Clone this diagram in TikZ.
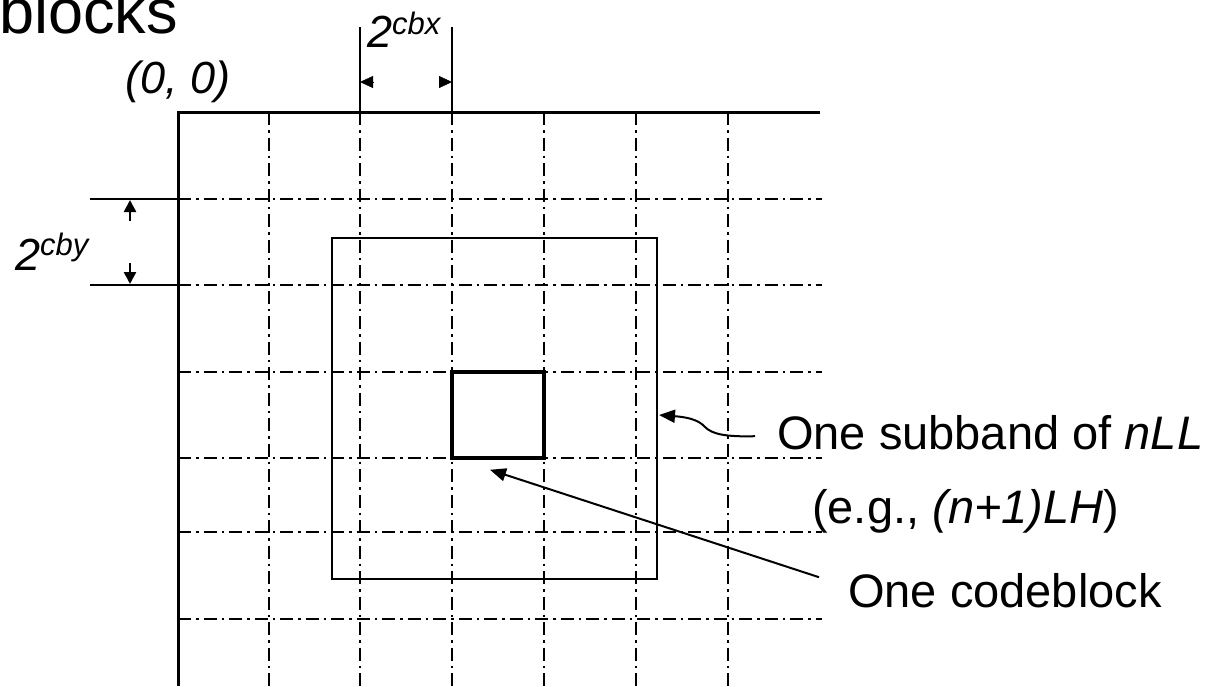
\documentclass[tikz,border=0pt]{standalone}
\usepackage{fontspec}
\setmainfont{Liberation Sans}
\usetikzlibrary{calc,arrows.meta}

\tikzset{
  gridline/.style={line width=2.4pt,dash pattern=on 13pt off 5pt on 2.5pt off 5pt},
  frameline/.style={line width=3pt},
  dimline/.style={line width=2.4pt},
  lbl/.style={inner sep=0pt,anchor=base west,font=\fontsize{47}{56}\selectfont},
  leader/.style={line width=2pt,-{Triangle[length=16pt,width=13pt]}}
}

\begin{document}
\begin{tikzpicture}[x=1pt,y=-1pt]
        \useasboundingbox (0,0) rectangle (1211,686);

        % grid of codeblocks
        \foreach \x in {269,360,452,544,636,728} {
          \draw[gridline] (\x,112) -- (\x,686);
        }
        \foreach \y in {199,285,372,458,532,619} {
          \draw[gridline] (178,\y) -- (822,\y);
        }
        \draw[frameline] (820,112) -- (178,112) -- (178,686);

        % dimension 2^cbx
        \draw[dimline] (360,27) -- (360,112);
        \draw[dimline] (452,27) -- (452,112);
        \draw[-{Triangle[length=13pt,width=12pt]}] (373,82) -- (360,82);
        \draw[-{Triangle[length=13pt,width=12pt]}] (439,82) -- (452,82);

        % dimension 2^cby
        \draw[dimline] (90,199) -- (178,199);
        \draw[dimline] (90,285) -- (178,285);
        \draw[line width=2.5pt,-{Triangle[length=12pt,width=12pt]}] (130,221) -- (130,200);
        \draw[line width=2.5pt,-{Triangle[length=12pt,width=12pt]}] (130,263) -- (130,284);

        % subband and codeblock
        \node[draw,line width=2pt,inner sep=0pt,minimum width=325pt,minimum height=341pt] (subband) at (494.5,408.5) {};
        \node[draw,line width=3.5pt,inner sep=0pt,minimum width=92pt,minimum height=86pt] (codeblock) at (498,415) {};

        % labels
        \node[lbl,anchor=base east,font=\fontsize{63}{72}\selectfont] (title) at (178,33) {blocks};
        \node[lbl,font=\fontsize{45}{54}\selectfont\itshape] (origin) at (125,93) {(0, 0)};
        \node[lbl,font=\fontsize{45}{54}\selectfont\itshape] (cbx) at (367,47) {2\raisebox{13pt}{\fontsize{31}{31}\selectfont cbx}};
        \node[lbl,font=\fontsize{45}{54}\selectfont\itshape] (cby) at (15,270) {2\raisebox{15pt}{\fontsize{31}{31}\selectfont cby}};
        \node[lbl] (sbtext) at (777,449) {One subband of \textit{nLL}};
        \node[lbl] (egtext) at (812,523) {(e.g., \textit{(n+1)LH})};
        \node[lbl] (cbtext) at (848,607) {One codeblock};

        % leaders
        \coordinate (sbtail) at ($(sbtext.west)+(-22,4)$);
        \coordinate (cbtail) at ($(cbtext.west)+(-29,-13)$);
        \draw[leader] (sbtail) .. controls (725,437) and (712,434) .. (705,427)
          .. controls (698,419) and (685,417) .. ($(subband.east)+(1,6.5)$);
        \draw[leader] (cbtail) -- ($(codeblock.south)+(-8,10)$);
      \end{tikzpicture}
\end{document}
